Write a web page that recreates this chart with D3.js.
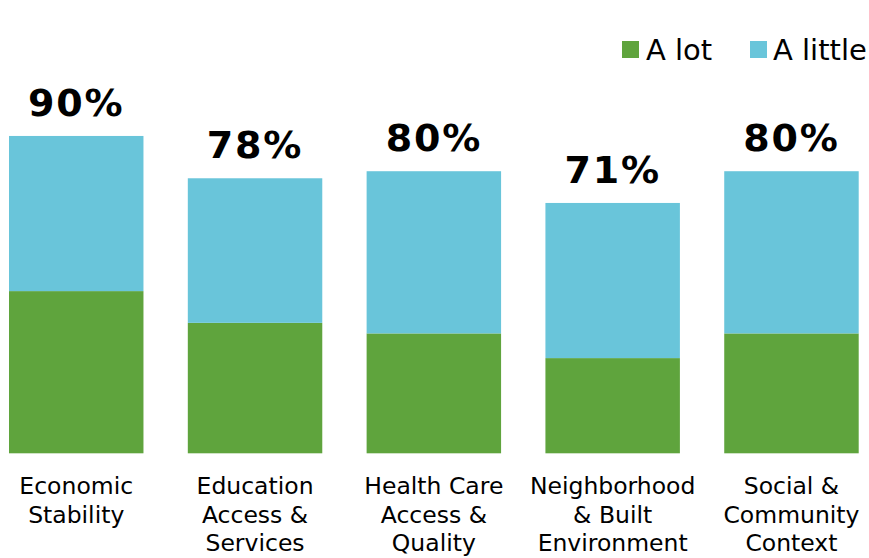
<!DOCTYPE html>
<html>
<head>
<meta charset="utf-8">
<script src="https://cdn.jsdelivr.net/npm/d3@7"></script>
<style>
  html, body { margin: 0; padding: 0; background: #fff; }
  svg { display: block; font-family: "DejaVu Sans", Verdana, sans-serif; }
</style>
</head>
<body>
<svg id="chart" width="869" height="558"></svg>
<script>
// Social determinants of health domains
const categories = [
  ["Economic", "Stability"],
  ["Education", "Access &", "Services"],
  ["Health Care", "Access &", "Quality"],
  ["Neighborhood", "& Built", "Environment"],
  ["Social &", "Community", "Context"]
];
const aLot = [46, 37, 34, 27, 34];
const aLittle = [44, 41, 46, 44, 46];
const totalLabels = ["90%", "78%", "80%", "71%", "80%"];
const seriesNames = ["A lot", "A little"];
const colors = ["#5fa43d", "#69c5da"];

const svg = d3.select("#chart");

const keys = categories.map(c => c.join(" "));
const rows = keys.map((k, i) => ({ key: k, lot: aLot[i], little: aLittle[i] }));

const x = d3.scaleBand().domain(keys).range([9, 858.7]).paddingInner(0.248).paddingOuter(0);
const y = d3.scaleLinear().domain([0, 100]).range([453.3, 100.7]);

const stack = d3.stack().keys(["lot", "little"]);
const layers = stack(rows);

svg.append("g").selectAll("g")
  .data(layers)
  .join("g")
  .attr("fill", (d, i) => colors[i])
  .selectAll("rect")
  .data(d => d)
  .join("rect")
  .attr("x", d => x(d.data.key))
  .attr("width", x.bandwidth())
  .attr("y", d => y(d[1]))
  .attr("height", d => y(d[0]) - y(d[1]));

// Total labels above each bar
svg.append("g").selectAll("text")
  .data(rows)
  .join("text")
  .attr("x", d => x(d.key) + x.bandwidth() / 2)
  .attr("y", d => y(d.lot + d.little) - 20)
  .attr("text-anchor", "middle")
  .attr("font-size", 38)
  .attr("font-weight", "bold")
  .attr("letter-spacing", 1.8)
  .attr("fill", "#000")
  .text((d, i) => totalLabels[i]);

// Category labels
const catG = svg.append("g");
categories.forEach((lines, i) => {
  const t = catG.append("text")
    .attr("x", x(keys[i]) + x.bandwidth() / 2)
    .attr("y", 494)
    .attr("text-anchor", "middle")
    .attr("font-size", 23.5)
    .attr("fill", "#000");
  lines.forEach((ln, j) => {
    t.append("tspan")
      .attr("x", x(keys[i]) + x.bandwidth() / 2)
      .attr("y", 494 + j * 28.5)
      .text(ln);
  });
});

// Legend
const legendItems = [
  { name: seriesNames[0], color: colors[0], sx: 622, tx: 646 },
  { name: seriesNames[1], color: colors[1], sx: 750, tx: 773 }
];
const lg = svg.append("g");
legendItems.forEach(it => {
  lg.append("rect")
    .attr("x", it.sx).attr("y", 41)
    .attr("width", 17).attr("height", 17)
    .attr("fill", it.color);
  lg.append("text")
    .attr("x", it.tx).attr("y", 60)
    .attr("font-size", 29)
    .attr("fill", "#000")
    .text(it.name);
});
</script>
</body>
</html>
